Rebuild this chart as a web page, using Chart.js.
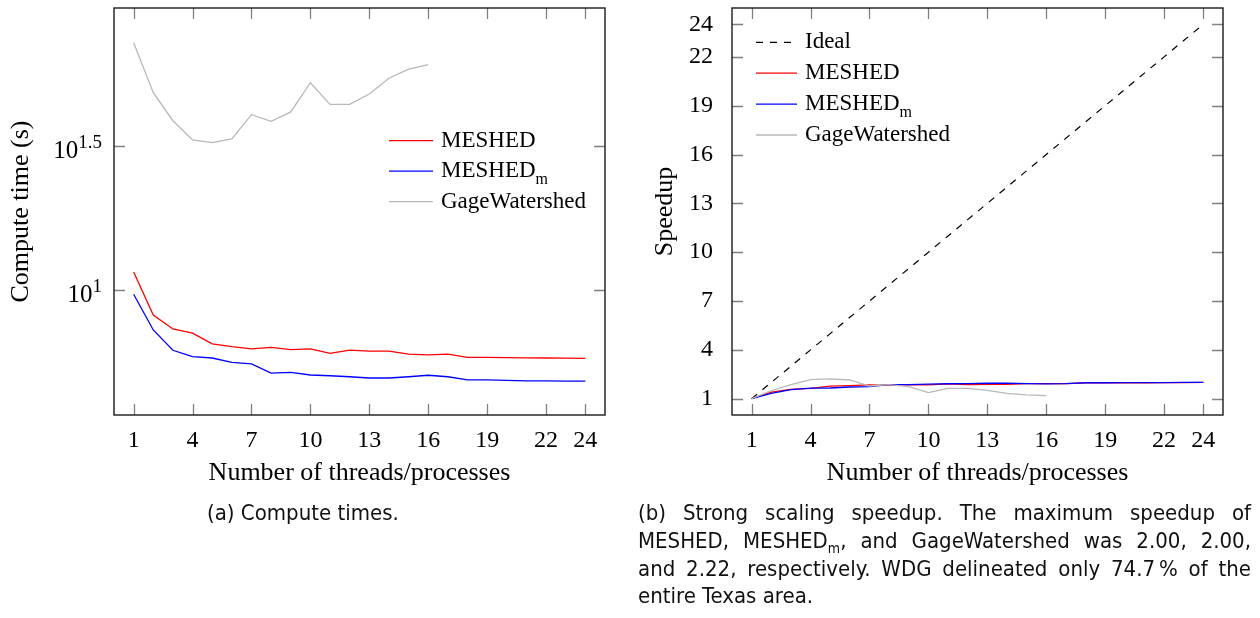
<!DOCTYPE html>
<html>
<head>
<meta charset="utf-8">
<script src="https://cdn.jsdelivr.net/npm/chart.js@4.4.1/dist/chart.umd.min.js"></script>
<style>
  html, body { margin: 0; padding: 0; background: #fff; }
  body { width: 1260px; height: 618px; position: relative; overflow: hidden; }
  .panel { position: absolute; top: 0; width: 630px; height: 500px; }
  .cap { position: absolute; font-family: "DejaVu Sans Condensed", "Liberation Sans", sans-serif;
    color: #111; font-size: 22px; line-height: 27.8px; }
  .cap div { text-align: justify; text-align-last: justify; white-space: nowrap; }
  .cap div.last { text-align-last: left; }
  sub { font-size: 14px; vertical-align: -5px; line-height: 0; }
</style>
</head>
<body>
<div class="panel" style="left:0"><canvas id="chart-time" width="630" height="500"></canvas></div>
<div class="panel" style="left:630px"><canvas id="chart-speedup" width="630" height="500"></canvas></div>

<div class="cap" style="left:207px; top:499px;"><div class="last">(a) Compute times.</div></div>
<div class="cap" style="left:638px; top:499px; width:613px;">
  <div>(b) Strong scaling speedup. The maximum speedup of</div>
  <div>MESHED, MESHED<sub>m</sub>, and GageWatershed was 2.00, 2.00,</div>
  <div>and 2.22, respectively. WDG delineated only 74.7&#8201;% of the</div>
  <div class="last">entire Texas area.</div>
</div>

<script>
const threads = [1, 2, 3, 4, 5, 6, 7, 8, 9, 10, 11, 12, 13, 14, 15, 16, 17, 18, 19, 20, 21, 22, 23, 24];
const gageThreads = [1, 2, 3, 4, 5, 6, 7, 8, 9, 10, 11, 12, 13, 14, 15, 16];

// compute times (s)
const meshedTime = [11.57, 8.21, 7.35, 7.11, 6.53, 6.38, 6.27, 6.35, 6.23, 6.27, 6.05, 6.21,
  6.16, 6.16, 6.01, 5.98, 6.01, 5.86, 5.86, 5.85, 5.84, 5.83, 5.82, 5.81];
const meshedMTime = [9.69, 7.29, 6.20, 5.89, 5.83, 5.63, 5.56, 5.17, 5.20, 5.09, 5.06, 5.02,
  4.97, 4.97, 5.02, 5.08, 5.02, 4.90, 4.90, 4.88, 4.86, 4.86, 4.85, 4.85];
const gageTime = [72.1, 48.4, 38.7, 33.2, 32.5, 33.5, 40.6, 38.5, 41.5, 52.4, 44.1, 44.1,
  47.9, 54.3, 58.4, 60.5];

// speedups
const idealSpeedup = [1, 2, 3, 4, 5, 6, 7, 8, 9, 10, 11, 12, 13, 14, 15, 16, 17, 18, 19, 20, 21, 22, 23, 24];
const meshedSpeedup = [1, 1.41, 1.57, 1.63, 1.77, 1.81, 1.85, 1.82, 1.86, 1.85, 1.91, 1.86,
  1.88, 1.88, 1.93, 1.93, 1.93, 1.97, 1.98, 1.98, 1.98, 1.99, 1.99, 2.00];
const meshedMSpeedup = [1, 1.33, 1.56, 1.65, 1.66, 1.72, 1.74, 1.87, 1.86, 1.90, 1.92, 1.93,
  1.95, 1.95, 1.93, 1.91, 1.93, 1.98, 1.98, 1.99, 1.99, 1.99, 2.00, 2.00];
const gageSpeedup = [1, 1.49, 1.86, 2.17, 2.22, 2.15, 1.78, 1.87, 1.74, 1.38, 1.63, 1.63,
  1.51, 1.33, 1.24, 1.19];

const threadTicks = [1, 4, 7, 10, 13, 16, 19, 22, 24];
const timeTickExps = [1, 1.5];
const speedTicks = [1, 4, 7, 10, 13, 16, 19, 22, 24];

const SERIF = "'Liberation Serif', 'DejaVu Serif', serif";
const tickFont = { family: SERIF, size: 24 };
const titleFont = { family: SERIF, size: 26 };
const RED = "#ff0000", BLUE = "#0000ff", GRAY = "#b8b8b8";

const pts = (xs, ys) => xs.map((x, i) => ({ x: x, y: ys[i] }));

// inner tick marks on all four sides + black frame (pgfplots look)
const framePlugin = {
  id: "frame",
  afterDatasetsDraw(chart) {
    const { ctx, chartArea: a, scales } = chart;
    const len = 11;
    ctx.save();
    ctx.strokeStyle = "#808080";
    ctx.lineWidth = 1.3;
    ctx.beginPath();
    scales.x.ticks.forEach(t => {
      const px = Math.round(scales.x.getPixelForValue(t.value)) + 0.5;
      ctx.moveTo(px, a.bottom); ctx.lineTo(px, a.bottom - len);
      ctx.moveTo(px, a.top); ctx.lineTo(px, a.top + len);
    });
    scales.y.ticks.forEach(t => {
      const py = Math.round(scales.y.getPixelForValue(t.value)) + 0.5;
      ctx.moveTo(a.left, py); ctx.lineTo(a.left + len, py);
      ctx.moveTo(a.right, py); ctx.lineTo(a.right - len, py);
    });
    ctx.stroke();
    ctx.strokeStyle = "#1a1a1a";
    ctx.lineWidth = 1.4;
    ctx.strokeRect(a.left, a.top, a.right - a.left, a.bottom - a.top);
    ctx.restore();
  }
};

// legend drawn inside the plot, with subscript support
const boxLegendPlugin = {
  id: "boxLegend",
  afterDraw(chart, args, opts) {
    const { ctx } = chart;
    ctx.save();
    chart.data.datasets.forEach((ds, i) => {
      const y = opts.y + i * opts.dy;
      ctx.strokeStyle = ds.borderColor;
      ctx.lineWidth = 1.3;
      ctx.setLineDash(ds.borderDash || []);
      ctx.beginPath();
      ctx.moveTo(opts.x, y); ctx.lineTo(opts.x + opts.len, y);
      ctx.stroke();
      ctx.setLineDash([]);
      ctx.fillStyle = "#000";
      ctx.textBaseline = "middle";
      ctx.textAlign = "left";
      ctx.font = "23px " + SERIF;
      const tx = opts.x + opts.len + 8;
      ctx.fillText(ds.legendBase, tx, y);
      if (ds.legendSub) {
        const w = ctx.measureText(ds.legendBase).width;
        ctx.font = "16px " + SERIF;
        ctx.fillText(ds.legendSub, tx + w, y + 9);
      }
    });
    ctx.restore();
  }
};

// log-axis labels of the form 10^e
const powerLabelPlugin = {
  id: "powerLabels",
  afterDraw(chart) {
    const { ctx, scales } = chart;
    const yScale = scales.y;
    ctx.save();
    ctx.fillStyle = "#000";
    ctx.textBaseline = "alphabetic";
    ctx.textAlign = "right";
    yScale.ticks.forEach(t => {
      const py = yScale.getPixelForValue(t.value);
      const exp = String(Math.round(Math.log10(t.value) * 10) / 10);
      ctx.font = "19px " + SERIF;
      const ew = ctx.measureText(exp).width;
      const right = yScale.right - 12;
      ctx.fillText(exp, right, py + 2);
      ctx.font = "25px " + SERIF;
      ctx.fillText("10", right - ew, py + 12);
    });
    ctx.restore();
  }
};

const xScale = () => ({
  type: "linear",
  min: 0,
  max: 25,
  grid: { display: false },
  border: { display: false },
  afterBuildTicks: s => { s.ticks = threadTicks.map(v => ({ value: v })); },
  afterFit: s => { s.height = 85; s.paddingLeft = 0; s.paddingRight = 0; },
  ticks: { font: tickFont, color: "#000", padding: 3, maxRotation: 0, autoSkip: false },
  title: { display: true, text: "Number of threads/processes", font: titleFont, color: "#000",
    padding: { top: 0, bottom: 11 } }
});

const lineDs = (label, data, color, extra) => Object.assign({
  legendBase: label,
  data: data,
  borderColor: color,
  borderWidth: 1.3,
  pointRadius: 0,
  tension: 0,
  fill: false
}, extra || {});

new Chart(document.getElementById("chart-time"), {
  type: "line",
  data: {
    datasets: [
      lineDs("MESHED", pts(threads, meshedTime), RED, { order: 3 }),
      lineDs("MESHED", pts(threads, meshedMTime), BLUE, { legendSub: "m", order: 2 }),
      lineDs("GageWatershed", pts(gageThreads, gageTime), GRAY, { order: 1 })
    ]
  },
  options: {
    responsive: false,
    animation: false,
    devicePixelRatio: 1,
    layout: { padding: { top: 8, right: 25, left: 0, bottom: 0 } },
    plugins: {
      legend: { display: false },
      tooltip: { enabled: false },
      boxLegend: { x: 389, y: 140.7, dy: 30.5, len: 44 }
    },
    scales: {
      x: xScale(),
      y: {
        type: "logarithmic",
        min: 3.70,
        max: 95.1,
        grid: { display: false },
        border: { display: false },
        afterBuildTicks: s => { s.ticks = timeTickExps.map(e => ({ value: Math.pow(10, e) })); },
        afterFit: s => { s.width = 114; s.paddingTop = 0; s.paddingBottom = 0; },
        ticks: { callback: () => "", font: tickFont },
        title: { display: true, text: "Compute time (s)", font: titleFont, color: "#000",
          padding: { top: 6, bottom: 0 } }
      }
    }
  },
  plugins: [framePlugin, boxLegendPlugin, powerLabelPlugin]
});

new Chart(document.getElementById("chart-speedup"), {
  type: "line",
  data: {
    datasets: [
      lineDs("Ideal", pts(threads, idealSpeedup), "#000", { borderDash: [7, 7], borderWidth: 1.2, order: 4 }),
      lineDs("MESHED", pts(threads, meshedSpeedup), RED, { order: 3 }),
      lineDs("MESHED", pts(threads, meshedMSpeedup), BLUE, { legendSub: "m", order: 2 }),
      lineDs("GageWatershed", pts(gageThreads, gageSpeedup), GRAY, { order: 1 })
    ]
  },
  options: {
    responsive: false,
    animation: false,
    devicePixelRatio: 1,
    layout: { padding: { top: 8, right: 37, left: 0, bottom: 0 } },
    plugins: {
      legend: { display: false },
      tooltip: { enabled: false },
      boxLegend: { x: 126, y: 42.3, dy: 30.9, len: 41 }
    },
    scales: {
      x: xScale(),
      y: {
        type: "linear",
        min: 0,
        max: 25,
        grid: { display: false },
        border: { display: false },
        afterBuildTicks: s => { s.ticks = speedTicks.map(v => ({ value: v })); },
        afterFit: s => { s.width = 102; s.paddingTop = 0; s.paddingBottom = 0; },
        ticks: { font: tickFont, color: "#000", padding: 11 },
        title: { display: true, text: "Speedup", font: titleFont, color: "#000",
          padding: { top: 20, bottom: 0 } }
      }
    }
  },
  plugins: [framePlugin, boxLegendPlugin]
});
</script>
</body>
</html>
